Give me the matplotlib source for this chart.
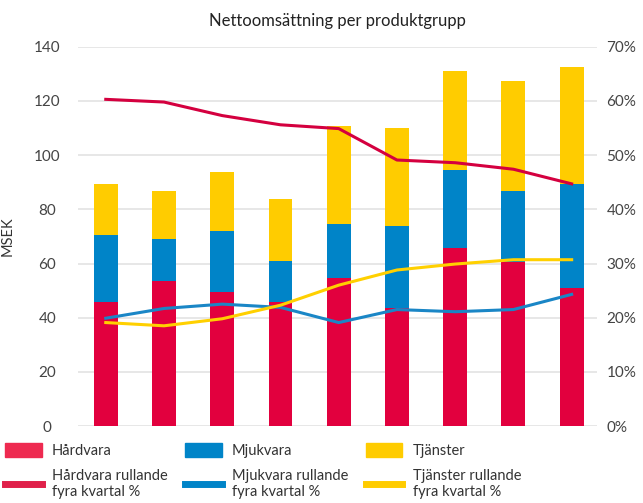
import matplotlib
matplotlib.use("Agg")
import matplotlib.pyplot as plt
from matplotlib.patches import Patch
from matplotlib.lines import Line2D

plt.rcParams['font.family'] = ['Lato', 'DejaVu Sans']

kvartal = list(range(9))
hardvara = [45.9, 53.7, 49.6, 45.9, 54.8, 43.5, 65.9, 60.7, 50.8]
mjukvara = [24.8, 15.4, 22.4, 15.2, 19.7, 30.5, 28.7, 26.2, 38.6]
tjanster = [18.7, 17.5, 21.8, 22.6, 36.1, 36.2, 36.3, 40.6, 43.1]

hard_pct = [60.3, 59.8, 57.3, 55.6, 54.9, 49.1, 48.6, 47.4, 44.7]
mjuk_pct = [19.9, 21.7, 22.5, 21.9, 19.1, 21.5, 21.1, 21.5, 24.3]
tjan_pct = [19.1, 18.5, 19.8, 22.3, 26.0, 28.8, 29.9, 30.7, 30.7]

red = '#E2003E'
blue = '#0084C8'
yellow = '#FFCC00'

fig = plt.figure(figsize=(6.43, 5.03), dpi=100)
ax = fig.add_axes([0.121, 0.153, 0.807, 0.754])

w = 0.41
bot2 = [h + m for h, m in zip(hardvara, mjukvara)]
ax.bar(kvartal, hardvara, w, color=red, zorder=2)
ax.bar(kvartal, mjukvara, w, bottom=hardvara, color=blue, zorder=2)
ax.bar(kvartal, tjanster, w, bottom=bot2, color=yellow, zorder=2)

ax.set_ylim(0, 140)
ax.set_yticks(range(0, 141, 20))
ax.set_xlim(-0.48, 8.43)
ax.set_xticks([])
ax.grid(axis='y', color='#e3e3e3', linewidth=1.2, zorder=0)
ax.set_axisbelow(True)
for s in ax.spines.values():
    s.set_visible(False)
ax.tick_params(axis='y', length=0, labelsize=11, labelcolor='#444444', pad=22)
for lab in ax.get_yticklabels():
    lab.set_horizontalalignment('center')
ax.set_ylabel('MSEK', fontsize=10.5, color='#333333', labelpad=14)

ax2 = ax.twinx()
ax2.set_ylim(0, 70)
ax2.set_yticks(range(0, 71, 10))
ax2.set_yticklabels([f'{v}%' for v in range(0, 71, 10)])
ax2.tick_params(axis='y', length=0, labelsize=11, labelcolor='#444444', pad=7)
for s in ax2.spines.values():
    s.set_visible(False)
ax2.plot(kvartal, hard_pct, color='#D4003F', linewidth=2.2, zorder=3)
ax2.plot(kvartal, mjuk_pct, color='#1A86C6', linewidth=2.2, zorder=3)
ax2.plot(kvartal, tjan_pct, color='#FFD000', linewidth=2.2, zorder=3)

fig.text(0.525, 0.958, 'Nettoomsättning per produktgrupp', ha='center', va='center',
         fontsize=12, color='#222222')

handles = [
    Patch(color='#EE2A50'), Line2D([], [], color='#E0204A', linewidth=5),
    Patch(color=blue), Line2D([], [], color=blue, linewidth=5),
    Patch(color=yellow), Line2D([], [], color=yellow, linewidth=5),
]
labels = ['Hårdvara', 'Hårdvara rullande\nfyra kvartal %',
          'Mjukvara', 'Mjukvara rullande\nfyra kvartal %',
          'Tjänster', 'Tjänster rullande\nfyra kvartal %']
fig.legend(handles, labels, ncol=3, loc='upper left', bbox_to_anchor=(-0.012, 0.145),
           frameon=False, fontsize=10.5, handlelength=2.5, handleheight=1.1,
           columnspacing=1.2, handletextpad=0.7, labelspacing=0.75, labelcolor='#333333')

fig.savefig('out.png', dpi=100)
